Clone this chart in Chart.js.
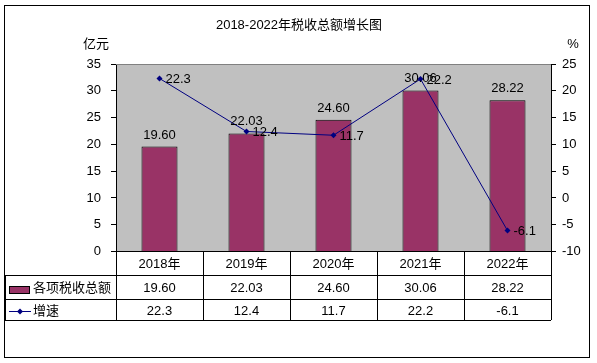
<!DOCTYPE html>
<html>
<head>
<meta charset="utf-8">
<script src="https://cdn.jsdelivr.net/npm/chart.js@4/dist/chart.umd.min.js"></script>
<style>
    body { margin: 0; background: #fff; }
    #grafico { display: block; }
</style>
</head>
<body>
<canvas id="grafico" width="597" height="363"></canvas>
<script>
//Datos del grafico
var categorias = ['2018年', '2019年', '2020年', '2021年', '2022年'];
var totales = [19.60, 22.03, 24.60, 30.06, 28.22];
var crecimiento = [22.3, 12.4, 11.7, 22.2, -6.1];
var ticksIzquierda = [0, 5, 10, 15, 20, 25, 30, 35];
var ticksDerecha = [-10, -5, 0, 5, 10, 15, 20, 25];
var nombreBarras = '各项税收总额';
var nombreLinea = '增速';
var titulo = '2018-2022年税收总额增长图';

var fuente = '"Liberation Sans", Arial, "Noto Sans CJK SC", sans-serif';
var colorBarra = '#993366';
var colorLinea = '#000080';

//Plugin para fondo, marco, titulos, etiquetas y tabla de datos
var pluginTabla = {
    id: 'tabla',
    beforeDraw: function (chart) {
        var ctx = chart.ctx;
        var a = chart.chartArea;
        ctx.save();
        ctx.fillStyle = '#fff';
        ctx.fillRect(0, 0, chart.width, chart.height);
        ctx.fillStyle = '#c0c0c0';
        ctx.fillRect(a.left, a.top, a.right - a.left, a.bottom - a.top);
        ctx.restore();
    },
    afterDraw: function (chart) {
        var ctx = chart.ctx;
        var a = chart.chartArea;
        var x = chart.scales.x;
        ctx.save();

        //marco exterior
        ctx.strokeStyle = '#000';
        ctx.lineWidth = 1;
        ctx.strokeRect(4.5, 5.5, 585, 352);

        //borde superior del area de trazado
        ctx.strokeStyle = '#808080';
        ctx.beginPath();
        ctx.moveTo(a.left, a.top + 0.5);
        ctx.lineTo(a.right, a.top + 0.5);
        ctx.stroke();

        //titulos
        ctx.fillStyle = '#000';
        ctx.font = '13px ' + fuente;
        ctx.textAlign = 'center';
        ctx.textBaseline = 'middle';
        ctx.fillText(titulo, 299, 25);
        ctx.fillText('亿元', 96, 44);
        ctx.fillText('%', 573, 44);

        //etiquetas de las barras
        var barras = chart.getDatasetMeta(0).data;
        ctx.textBaseline = 'alphabetic';
        barras.forEach(function (b, i) {
            ctx.fillText(totales[i].toFixed(2), b.x, b.y - 8);
        });

        //etiquetas de la linea
        var puntos = chart.getDatasetMeta(1).data;
        ctx.textAlign = 'left';
        ctx.textBaseline = 'middle';
        puntos.forEach(function (p, i) {
            ctx.fillText(crecimiento[i].toFixed(1), p.x + 6, p.y + 1);
        });

        //tabla de datos
        var filas = [a.bottom, 275, 299, 320];
        var izquierda = 5;
        var anchoCol = (a.right - a.left) / categorias.length;
        ctx.strokeStyle = '#000';
        ctx.beginPath();
        ctx.moveTo(a.left, a.bottom);
        ctx.lineTo(a.right, a.bottom);
        for (var f = 1; f < filas.length; f++) {
            ctx.moveTo(izquierda, filas[f] + 0.5);
            ctx.lineTo(a.right, filas[f] + 0.5);
        }
        ctx.moveTo(izquierda + 0.5, filas[1]);
        ctx.lineTo(izquierda + 0.5, filas[3]);
        for (var c = 0; c <= categorias.length; c++) {
            var cx = Math.round(a.left + c * anchoCol) + 0.5;
            ctx.moveTo(cx, filas[0]);
            ctx.lineTo(cx, filas[3]);
        }
        ctx.stroke();

        ctx.textAlign = 'center';
        ctx.textBaseline = 'middle';
        categorias.forEach(function (cat, i) {
            var cx = x.getPixelForValue(i);
            ctx.fillText(cat, cx, 264);
            ctx.fillText(totales[i].toFixed(2), cx, 288);
            ctx.fillText(crecimiento[i].toFixed(1), cx, 311);
        });

        //leyenda
        ctx.fillStyle = colorBarra;
        ctx.fillRect(9, 286, 21, 8);
        ctx.strokeRect(9.5, 286.5, 20, 7);
        ctx.strokeStyle = colorLinea;
        ctx.beginPath();
        ctx.moveTo(9, 311.5);
        ctx.lineTo(31, 311.5);
        ctx.stroke();
        ctx.fillStyle = colorLinea;
        ctx.beginPath();
        ctx.moveTo(20, 308.5);
        ctx.lineTo(23, 311.5);
        ctx.lineTo(20, 314.5);
        ctx.lineTo(17, 311.5);
        ctx.closePath();
        ctx.fill();

        ctx.fillStyle = '#000';
        ctx.textAlign = 'left';
        ctx.fillText(nombreBarras, 33, 288);
        ctx.fillText(nombreLinea, 33, 311);

        ctx.restore();
    }
};

function crearGrafico() {
    var ctx = document.getElementById('grafico').getContext('2d');

    var grafico = new Chart(ctx, {
        data: {
            labels: categorias,
            datasets: [{
                type: 'bar',
                label: nombreBarras,
                data: totales,
                yAxisID: 'y',
                backgroundColor: colorBarra,
                borderColor: '#000',
                borderWidth: 1,
                barPercentage: 0.414,
                categoryPercentage: 1,
                order: 2
            }, {
                type: 'line',
                label: nombreLinea,
                data: crecimiento,
                yAxisID: 'y1',
                borderColor: colorLinea,
                backgroundColor: colorLinea,
                borderWidth: 1,
                pointStyle: 'rectRot',
                pointRadius: 3,
                pointBorderWidth: 0,
                tension: 0,
                order: 1
            }]
        },
        options: {
            responsive: false,
            animation: false,
            devicePixelRatio: 1,
            layout: {
                padding: { top: 64, bottom: 111.5, left: 0, right: 0 }
            },
            plugins: {
                legend: { display: false },
                title: { display: false },
                tooltip: { enabled: false }
            },
            scales: {
                x: {
                    display: false,
                    offset: true
                },
                y: {
                    position: 'left',
                    min: 0,
                    max: 35,
                    afterBuildTicks: function (s) {
                        s.ticks = ticksIzquierda.map(function (v) { return { value: v }; });
                    },
                    afterFit: function (s) { s.width = 116; },
                    grid: { drawOnChartArea: false, tickLength: 5, color: '#000' },
                    border: { color: '#000' },
                    ticks: { color: '#000', padding: 10, font: { family: fuente, size: 13 } }
                },
                y1: {
                    position: 'right',
                    min: -10,
                    max: 25,
                    afterBuildTicks: function (s) {
                        s.ticks = ticksDerecha.map(function (v) { return { value: v }; });
                    },
                    afterFit: function (s) { s.width = 46; },
                    grid: { drawOnChartArea: false, tickLength: 5, color: '#000' },
                    border: { color: '#000' },
                    ticks: { color: '#000', padding: 6, font: { family: fuente, size: 13 } }
                }
            }
        },
        plugins: [pluginTabla]
    });

    return grafico;
}

crearGrafico();
</script>
</body>
</html>
